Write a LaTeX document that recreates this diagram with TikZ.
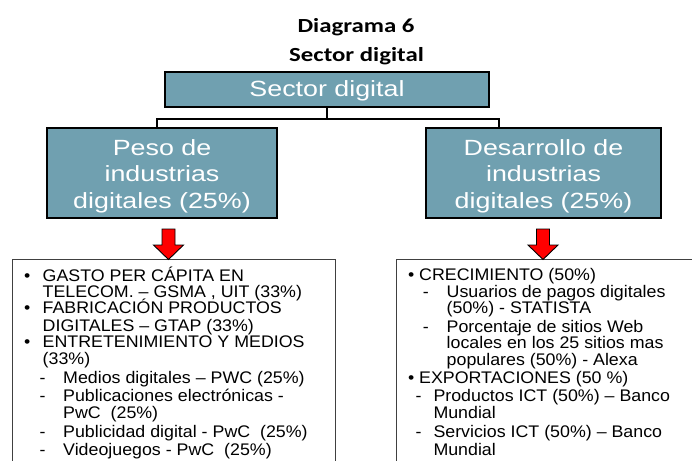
\documentclass[tikz,border=0pt]{standalone}
\usepackage{fontspec}
\setmainfont{Liberation Sans}
\newfontfamily\titlefont{Carlito}[FakeStretch=1.24]
\newfontfamily\boxfont{Liberation Sans}[FakeStretch=1.22]
\newfontfamily\bodyfont{Liberation Sans}[FakeStretch=1.06]
\definecolor{boxteal}{RGB}{112,160,176}
\definecolor{arrowred}{RGB}{255,0,0}
\newcommand\listline[4]{\node[txt] (#1) at (#2,#3) {#4};}
\begin{document}
\begin{tikzpicture}[x=1pt,y=-1pt,
  labelbox/.style={draw=black, line width=1.1pt, fill=boxteal, text=white,
    font=\boxfont\fontsize{22}{26.7}\selectfont, align=center, inner sep=0pt},
  listbox/.style={draw=black!75, line width=0.8pt, fill=white, inner sep=0pt, anchor=north west},
  conn/.style={draw=black, line width=2pt},
  redarrow/.style={fill=arrowred, draw=black, line width=0.9pt, line join=miter},
  ttl/.style={font=\titlefont\bfseries\fontsize{20}{24}\selectfont, anchor=base, inner sep=0pt},
  txt/.style={font=\bodyfont\fontsize{16.8}{19}\selectfont, anchor=base west, inner sep=0pt}]
\clip (0,0) rectangle (692,460);
\fill[white] (0,0) rectangle (692,460);

% title
\node[ttl] (t1) at (356,32.3) {Diagrama 6};
\node[ttl] (t2) at (356.5,61.3) {Sector digital};

% label boxes
\node[labelbox, minimum width=324, minimum height=35] (top) at (327,89.5) {\rule{0pt}{19pt}Sector digital};
\node[labelbox, minimum width=230, minimum height=90] (left) at (162,173) {\rule{0pt}{22pt}Peso de\\industrias\\digitales (25\%)};
\node[labelbox, minimum width=235, minimum height=90] (right) at (543.5,173) {\rule{0pt}{22pt}Desarrollo de\\industrias\\digitales (25\%)};

% connectors
\coordinate (jl) at (157,119);
\coordinate (jr) at (499,119);
\draw[conn] (top.south) -- (top.south |- jl);
\draw[conn] (jl |- left.north) -- (jl) -- (jr) -- (jr |- right.north);

% list boxes
\node[listbox, minimum width=323, minimum height=240] (lbox) at (12,259) {};
\node[listbox, minimum width=320, minimum height=240] (rbox) at (396,259) {};

% red arrows
\coordinate (al) at (168.5,259.5);
\coordinate (ar) at (543,259.5);
\foreach \c in {al,ar}{
  \draw[redarrow] ([shift={(-6.5,-30.5)}]\c) -- ([shift={(6.5,-30.5)}]\c)
    -- ([shift={(6.5,-14.5)}]\c) -- ([shift={(15,-14.5)}]\c) -- (\c)
    -- ([shift={(-15,-14.5)}]\c) -- ([shift={(-6.5,-14.5)}]\c) -- cycle;
}

% left list
\listline{lb1}{24}{281}{•}
\listline{l1}{42.5}{281}{GASTO PER CÁPITA EN}
\listline{l2}{42.5}{297}{TELECOM. – GSMA , UIT (33\%)}
\listline{lb2}{24}{313}{•}
\listline{l3}{42.5}{313}{FABRICACIÓN PRODUCTOS}
\listline{l4}{42.5}{331}{DIGITALES – GTAP (33\%)}
\listline{lb3}{24}{347}{•}
\listline{l5}{42.5}{347}{ENTRETENIMIENTO Y MEDIOS}
\listline{l6}{42.5}{364}{(33\%)}
\listline{ld1}{39.3}{383}{-}
\listline{l7}{63}{383}{Medios digitales – PWC (25\%)}
\listline{ld2}{39.3}{401}{-}
\listline{l8}{63}{401}{Publicaciones electrónicas -}
\listline{l9}{63}{418}{PwC\ \ (25\%)}
\listline{ld3}{39.3}{437}{-}
\listline{l10}{63}{437}{Publicidad digital - PwC\ \ (25\%)}
\listline{ld4}{39.3}{455}{-}
\listline{l11}{63}{455}{Videojuegos - PwC\ \ (25\%)}

% right list
\listline{rb1}{408}{280}{•}
\listline{r1}{419}{280}{CRECIMIENTO (50\%)}
\listline{rd1}{422.6}{297}{-}
\listline{r2}{446.5}{297}{Usuarios de pagos digitales}
\listline{r3}{446.5}{313}{(50\%) - STATISTA}
\listline{rd2}{422.6}{332}{-}
\listline{r4}{446.5}{332}{Porcentaje de sitios Web}
\listline{r5}{446.5}{348}{locales en los 25 sitios mas}
\listline{r6}{446.5}{365}{populares (50\%) - Alexa}
\listline{rb2}{408}{383}{•}
\listline{r7}{419}{383}{EXPORTACIONES (50 \%)}
\listline{rd3}{415.3}{401}{-}
\listline{r8}{433.3}{401}{Productos ICT (50\%) – Banco}
\listline{r9}{433.3}{418}{Mundial}
\listline{rd4}{415.3}{437}{-}
\listline{r10}{433.3}{437}{Servicios ICT (50\%) – Banco}
\listline{r11}{433.3}{455}{Mundial}
\end{tikzpicture}
\end{document}
